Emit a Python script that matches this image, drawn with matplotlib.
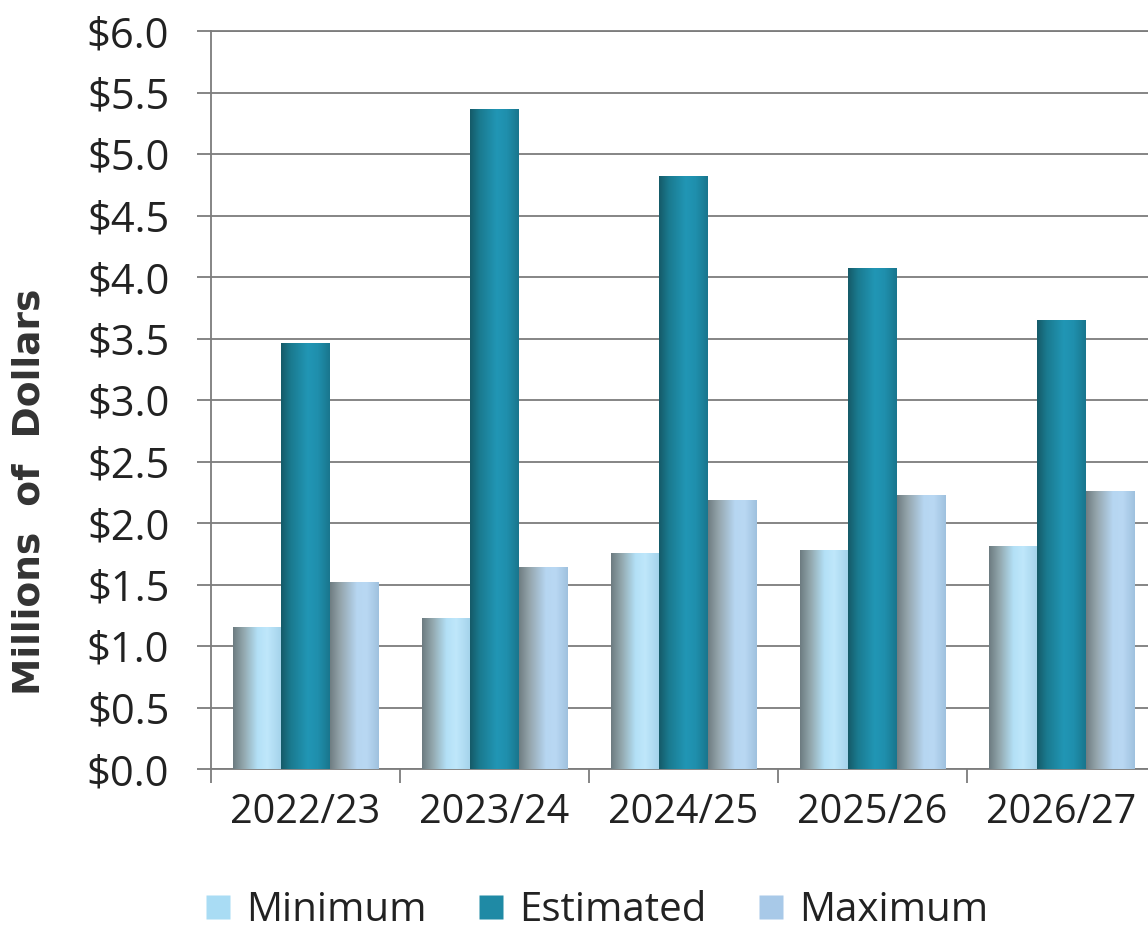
import numpy as np
import matplotlib
matplotlib.use("Agg")
import matplotlib.pyplot as plt
from matplotlib.colors import LinearSegmentedColormap
from matplotlib.lines import Line2D

categories = ["2022/23", "2023/24", "2024/25", "2025/26", "2026/27"]
minimum = [1.15, 1.22, 1.75, 1.78, 1.81]
estimated = [3.46, 5.36, 4.82, 4.07, 3.65]
maximum = [1.52, 1.64, 2.18, 2.22, 2.26]
series_names = ["Minimum", "Estimated", "Maximum"]
yticks = [0.0, 0.5, 1.0, 1.5, 2.0, 2.5, 3.0, 3.5, 4.0, 4.5, 5.0, 5.5, 6.0]
ylabel = "Millions  of  Dollars"

legend_colors = ["#a9dcf4", "#1f8aa5", "#a8c9e8"]
gradients = [
    [(0.0, "#6c7b80"), (0.22, "#93a8ae"), (0.5, "#b3e0f6"), (0.7, "#bfe7fb"), (1.0, "#a3d2ea")],
    [(0.0, "#155a68"), (0.2, "#1a7a8f"), (0.55, "#2196b5"), (0.75, "#1f8fad"), (1.0, "#19768d")],
    [(0.0, "#6f7d82"), (0.22, "#95a6ad"), (0.55, "#b6d6f1"), (0.75, "#b9d8f3"), (1.0, "#9fc1de")],
]

fig = plt.figure(figsize=(11.48, 9.41), dpi=100)
fig.patch.set_facecolor("white")
ax = fig.add_axes([211 / 1148, 172 / 941, 945 / 1148, 738 / 941])

x = np.arange(len(categories))
w = 0.255
grid_c = "#7c7c7c"

data = [minimum, estimated, maximum]
for i, vals in enumerate(data):
    bars = ax.bar(x + (i - 1) * w, vals, width=w, color="none", edgecolor="none", zorder=3)
    cmap = LinearSegmentedColormap.from_list(f"g{i}", gradients[i])
    grad = np.linspace(0, 1, 256).reshape(1, -1)
    for p in bars.patches:
        x0, y0 = p.get_x(), p.get_y()
        ax.imshow(grad, cmap=cmap, extent=[x0, x0 + p.get_width(), y0, y0 + p.get_height()],
                  aspect="auto", zorder=3, interpolation="bilinear")

ax.set_xlim(-0.5, 4.5)
ax.set_ylim(0, 6.0)
ax.set_yticks(yticks)
ax.set_yticklabels([f"${v:.1f}" for v in yticks], fontfamily="Open Sans", fontsize=30, color="#222222")
ax.set_xticks(x)
ax.set_xticklabels(categories, fontfamily="Open Sans", fontsize=28.5, color="#222222")
ax.set_xticks(np.arange(-0.5, 4.5, 1.0), minor=True)
ax.tick_params(axis="x", which="major", length=0, pad=17)
ax.tick_params(axis="x", which="minor", length=10, width=1.3, color=grid_c, direction="out")
ax.tick_params(axis="y", which="major", length=10, width=1.3, color=grid_c, direction="out", pad=20)

ax.yaxis.grid(True, color=grid_c, linewidth=1.3, zorder=1)
ax.set_axisbelow(True)
ax.spines["right"].set_visible(False)
for s in ["left", "bottom", "top"]:
    ax.spines[s].set_color(grid_c)
    ax.spines[s].set_linewidth(1.3)

fig.text(30 / 1148, 1 - 492 / 941, ylabel, rotation=90, ha="center", va="center",
         fontfamily="DejaVu Sans", fontweight="bold", fontsize=27, color="#333333")

handles = [Line2D([0], [0], marker="s", linestyle="none", markersize=17,
                  markerfacecolor=c, markeredgecolor="none") for c in legend_colors]
fig.legend(handles, series_names, loc="lower center", bbox_to_anchor=(0.52, -0.015), ncol=3,
           frameon=False, prop={"family": "Open Sans", "size": 29}, handlelength=0.6,
           handletextpad=0.4, columnspacing=1.3, labelcolor="#222222", borderpad=0.1)

fig.savefig("out.png", dpi=100, facecolor="white")
